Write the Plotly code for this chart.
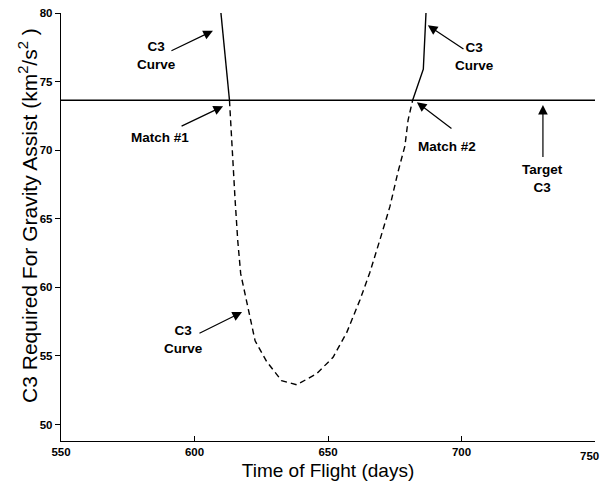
import plotly.graph_objects as go

# Data
solid_left_days = [609.9, 611.5, 613.1]
solid_left_c3 = [80.0, 76.8, 73.64]

dashed_days = [613.1, 614.2, 615.2, 616.2, 617.3, 619.5, 622.7, 627.0, 632.6, 638.3,
               645.7, 651.9, 657.0, 662.0, 665.7, 669.5, 673.2, 676.2, 678.8, 680.0, 681.7]
dashed_c3 = [73.64, 69.3, 66.4, 63.4, 61.0, 59.0, 56.1, 54.6, 53.2, 52.9,
             53.7, 54.9, 56.7, 59.1, 61.1, 63.5, 65.9, 68.4, 70.3, 72.2, 73.64]

solid_right_days = [681.7, 685.7, 686.7]
solid_right_c3 = [73.64, 75.9, 80.0]

target_days = [550, 750]
target_c3 = [73.64, 73.64]

x_ticks = [550, 600, 650, 700, 750]
y_ticks = [50, 55, 60, 65, 70, 75, 80]

# labels: (text, text_x, text_y, tail_x, tail_y, head_x, head_y)
labels = [
    ("C3<br>Curve", 585.6, 76.9, 590.8, 77.2, 606.9, 78.7),
    ("Match #1", 587.1, 70.9, 594.6, 71.7, 610.7, 73.2),
    ("C3<br>Curve", 704.7, 76.8, 701.3, 77.3, 687.4, 79.1),
    ("Match #2", 694.6, 70.3, 696.8, 71.5, 683.3, 73.5),
    ("Target<br>C3", 730.5, 67.9, 730.5, 69.4, 730.5, 73.3),
    ("C3<br>Curve", 595.7, 56.2, 601.3, 56.6, 617.8, 58.2),
]

FONT = "Liberation Sans, Arial, Helvetica"
TICK_SIZE = 11.5

fig = go.Figure()
line_style = dict(color="black", width=1.4)
fig.add_trace(go.Scatter(x=target_days, y=target_c3, mode="lines", line=line_style,
                         showlegend=False, hoverinfo="skip"))
fig.add_trace(go.Scatter(x=solid_left_days, y=solid_left_c3, mode="lines", line=line_style,
                         showlegend=False))
fig.add_trace(go.Scatter(x=dashed_days, y=dashed_c3, mode="lines",
                         line=dict(color="black", width=1.4, dash="6px,4px"),
                         showlegend=False))
fig.add_trace(go.Scatter(x=solid_right_days, y=solid_right_c3, mode="lines", line=line_style,
                         showlegend=False))

annotations = []
for text, tx, ty, ax, ay, hx, hy in labels:
    bold = "<b>" + text.replace("<br>", "</b><br><b>") + "</b>"
    annotations.append(dict(x=tx, y=ty, xref="x", yref="y", text=bold, showarrow=False,
                            font=dict(family=FONT, size=13.5, color="black"),
                            align="center"))
    annotations.append(dict(x=hx, y=hy, ax=ax, ay=ay, xref="x", yref="y", axref="x", ayref="y",
                            text="", showarrow=True, arrowhead=2, arrowsize=1.6, arrowwidth=1.2,
                            arrowcolor="black", standoff=0, startstandoff=0))

# y-axis title placed as rotated text
annotations.append(dict(
    x=-0.062, y=0.528, xref="paper", yref="paper", xanchor="center", yanchor="middle",
    text="C3 Required For Gravity Assist (km<sup>2</sup>/s<sup>2</sup> )",
    textangle=-90, showarrow=False, font=dict(family=FONT, size=21, color="black"),
))

# last x tick label sits at the right edge of the figure (kept inside the page)
last_tick = x_ticks[-1]
annotations.append(dict(
    x=1.012, y=0, xref="paper", yref="paper", xanchor="right", yanchor="top", yshift=-7,
    text=f"<b>{last_tick}</b>", showarrow=False,
    font=dict(family=FONT, size=TICK_SIZE, color="black"),
))

fig.update_layout(
    width=602, height=485,
    margin=dict(l=61, r=7, t=13, b=44),
    plot_bgcolor="white", paper_bgcolor="white",
    annotations=annotations,
    font=dict(family=FONT, color="black"),
)
fig.update_xaxes(
    range=[550, 750], tickvals=x_ticks,
    ticktext=[f"<b>{v}</b>" if v != last_tick else "" for v in x_ticks],
    ticks="inside", ticklen=5, tickcolor="black", tickwidth=1.2,
    showline=True, linecolor="black", linewidth=1.4, mirror=False,
    showgrid=False, zeroline=False,
    tickfont=dict(size=TICK_SIZE, family=FONT),
    title=dict(text="Time of Flight (days)", font=dict(size=19), standoff=6),
)
fig.update_yaxes(
    range=[48.8, 80], tickvals=y_ticks, ticktext=[f"<b>{v}</b>" for v in y_ticks],
    ticks="outside", ticklen=5, tickcolor="black", tickwidth=1.2,
    showline=True, linecolor="black", linewidth=1.4, mirror=False,
    showgrid=False, zeroline=False,
    tickfont=dict(size=TICK_SIZE, family=FONT),
)

fig.write_html("out.html", config={"displayModeBar": False},
               post_script="document.body.style.margin='0px';")
